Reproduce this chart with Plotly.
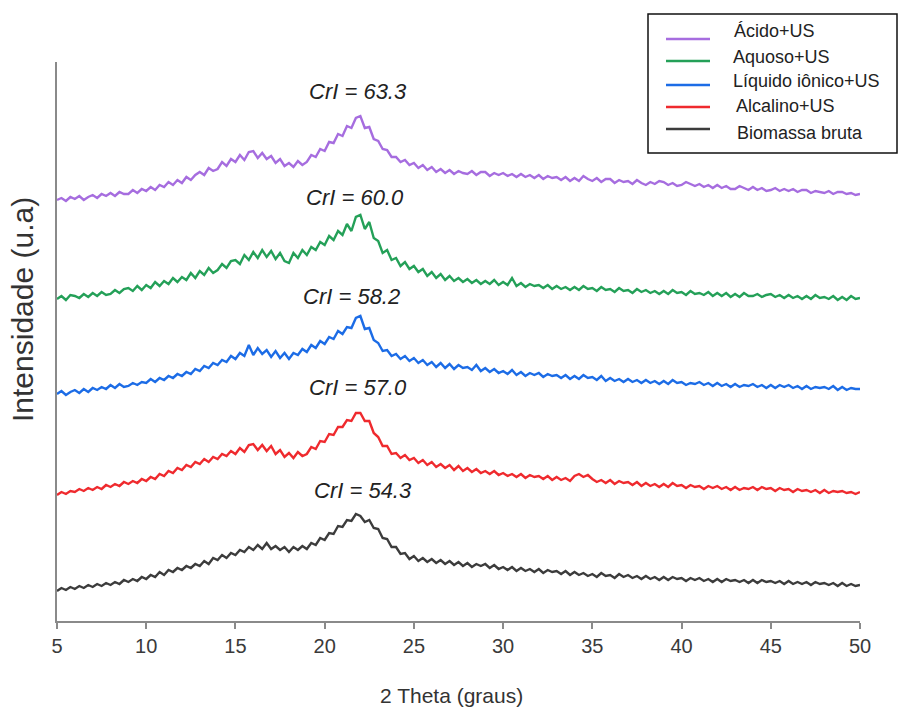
import plotly.graph_objects as go

# 2-theta sampling grid (degrees), 0.25 deg step from 5 to 50
two_theta = [5 + 0.25 * i for i in range(181)]

# Intensities (a.u., stacked/offset as in the figure)
acido_us = [
    421, 423, 420, 424, 422, 425, 421, 424, 426, 423, 427, 425, 428, 425, 429, 427,
    427, 431, 428, 432, 430, 434, 431, 436, 434, 439, 436, 441, 438, 444, 441, 446,
    449, 446, 453, 450, 452, 459, 455, 462, 459, 466, 461, 469, 470, 463, 468, 462,
    465, 458, 462, 455, 458, 454, 460, 456, 459, 466, 464, 472, 470, 479, 478, 487,
    485, 495, 493, 503, 505, 493, 494, 482, 480, 472, 471, 464, 464, 459, 461, 456,
    458, 453, 456, 451, 454, 449, 452, 448, 451, 447, 450, 448, 447, 450, 446, 449,
    449, 445, 448, 446, 448, 445, 447, 444, 447, 444, 446, 443, 446, 442, 445, 443,
    444, 441, 444, 440, 443, 440, 445, 442, 440, 443, 439, 442, 442, 438, 441, 439,
    440, 437, 441, 438, 436, 439, 437, 440, 439, 436, 438, 435, 436, 439, 437, 435,
    437, 434, 436, 433, 436, 433, 435, 432, 432, 435, 433, 431, 434, 431, 433, 430,
    431, 433, 430, 432, 430, 432, 429, 431, 431, 428, 430, 429, 428, 430, 427, 429,
    429, 427, 428, 426, 427,
]

aquoso_us = [
    322, 325, 321, 326, 325, 323, 327, 324, 328, 325, 329, 326, 327, 331, 328, 332,
    333, 330, 335, 331, 336, 333, 339, 335, 340, 337, 343, 339, 344, 341, 348, 343,
    350, 346, 353, 348, 351, 357, 353, 360, 361, 357, 366, 361, 369, 363, 371, 364,
    370, 362, 368, 360, 358, 368, 363, 371, 366, 374, 371, 379, 376, 385, 381, 390,
    386, 397, 390, 404, 406, 392, 399, 383, 380, 368, 371, 361, 363, 355, 359, 352,
    355, 349, 352, 345, 349, 343, 347, 341, 345, 340, 343, 339, 342, 338, 341, 337,
    340, 337, 341, 336, 339, 336, 343, 335, 338, 334, 337, 335, 336, 333, 336, 332,
    335, 332, 334, 331, 334, 331, 335, 332, 333, 330, 334, 331, 332, 329, 333, 330,
    331, 328, 332, 329, 331, 328, 330, 327, 330, 327, 331, 328, 329, 326, 330, 327,
    328, 326, 329, 325, 328, 325, 328, 324, 327, 324, 328, 325, 325, 327, 324, 326,
    327, 324, 326, 323, 326, 323, 325, 322, 325, 322, 326, 323, 324, 322, 325, 321,
    324, 321, 325, 322, 323,
]

liquido_ionico_us = [
    227, 230, 226, 229, 231, 228, 232, 229, 233, 231, 234, 232, 236, 233, 237, 234,
    235, 238, 236, 239, 238, 242, 239, 243, 241, 245, 243, 247, 245, 249, 247, 252,
    250, 255, 253, 258, 256, 261, 259, 265, 262, 268, 265, 276, 266, 273, 267, 271,
    264, 270, 263, 268, 262, 268, 266, 272, 269, 276, 273, 280, 277, 284, 282, 290,
    287, 294, 293, 303, 305, 292, 293, 281, 278, 270, 271, 265, 267, 262, 265, 260,
    263, 258, 261, 256, 259, 254, 258, 253, 257, 252, 256, 253, 254, 251, 256, 250,
    253, 249, 252, 248, 250, 247, 251, 246, 249, 245, 248, 246, 248, 244, 247, 245,
    246, 243, 246, 242, 245, 242, 246, 243, 244, 241, 245, 240, 243, 240, 242, 239,
    242, 239, 241, 238, 241, 238, 240, 237, 240, 237, 241, 238, 239, 236, 238, 237,
    239, 236, 238, 235, 238, 235, 237, 234, 237, 234, 236, 235, 237, 234, 236, 233,
    236, 233, 236, 234, 236, 233, 235, 232, 235, 232, 234, 233, 234, 232, 235, 231,
    234, 231, 233, 232, 232,
]

alcalino_us = [
    126, 129, 127, 130, 129, 132, 130, 133, 131, 134, 132, 136, 134, 137, 135, 139,
    137, 140, 138, 142, 140, 144, 142, 147, 145, 150, 148, 153, 151, 156, 154, 159,
    157, 162, 159, 164, 162, 167, 165, 170, 167, 173, 169, 176, 177, 171, 176, 170,
    175, 167, 171, 164, 168, 163, 169, 165, 167, 174, 172, 180, 179, 187, 186, 194,
    194, 201, 200, 208, 208, 200, 200, 188, 184, 175, 175, 167, 168, 163, 166, 161,
    163, 158, 161, 156, 159, 154, 157, 153, 156, 151, 155, 150, 153, 149, 152, 148,
    150, 147, 150, 146, 148, 145, 147, 144, 147, 143, 146, 144, 145, 142, 145, 141,
    144, 141, 143, 140, 145, 147, 144, 146, 142, 139, 141, 138, 141, 137, 140, 138,
    139, 136, 139, 135, 138, 135, 137, 134, 137, 134, 138, 135, 136, 133, 136, 134,
    135, 132, 135, 133, 135, 132, 134, 131, 134, 131, 133, 132, 134, 131, 134, 132,
    133, 130, 133, 131, 132, 129, 132, 130, 131, 129, 131, 128, 131, 128, 130, 129,
    130, 128, 129, 127, 129,
]

biomassa_bruta = [
    30, 33, 31, 34, 32, 35, 33, 36, 34, 37, 35, 38, 36, 39, 37, 41,
    39, 42, 40, 44, 42, 46, 44, 49, 46, 51, 49, 53, 51, 55, 53, 57,
    55, 60, 57, 63, 61, 66, 63, 68, 66, 71, 69, 74, 71, 76, 72, 78,
    72, 75, 71, 74, 69, 74, 71, 75, 72, 78, 76, 83, 81, 88, 87, 95,
    94, 101, 100, 107, 105, 99, 101, 93, 92, 83, 82, 74, 74, 67, 68, 62,
    65, 60, 63, 59, 62, 58, 61, 57, 60, 56, 59, 55, 58, 54, 57, 55,
    57, 53, 56, 52, 54, 51, 54, 50, 53, 50, 52, 49, 52, 48, 51, 49,
    50, 47, 50, 46, 49, 46, 48, 45, 47, 44, 48, 45, 46, 43, 47, 44,
    46, 43, 45, 42, 45, 42, 44, 41, 44, 41, 44, 42, 43, 40, 43, 41,
    43, 40, 42, 39, 42, 39, 42, 40, 41, 39, 41, 38, 41, 38, 41, 39,
    40, 38, 40, 37, 40, 37, 39, 37, 39, 36, 39, 37, 38, 36, 38, 35,
    38, 35, 37, 35, 36,
]

series_names = ["Ácido+US", "Aquoso+US", "Líquido iônico+US", "Alcalino+US", "Biomassa bruta"]
series_values = [acido_us, aquoso_us, liquido_ionico_us, alcalino_us, biomassa_bruta]
crl_values = [63.3, 60.0, 58.2, 57.0, 54.3]
x_ticks = [5, 10, 15, 20, 25, 30, 35, 40, 45, 50]

# styles / layout constants
colors = ["#a66ddf", "#24a058", "#1c6ce6", "#ef2a2e", "#3c3c3c"]
crl_label_pos = [(21.87, 530), (21.7, 424), (21.53, 325), (21.87, 234), (22.15, 131)]

W, H = 899, 713
L, R, T, B = 57, 39, 62, 92
PW, PH = W - L - R, H - T - B


def pxx(px):
    return (px - L) / PW


def pxy(py):
    return (H - B - py) / PH


fig = go.Figure()
for name, vals, col in zip(series_names, series_values, colors):
    assert len(vals) == len(two_theta), name
    fig.add_trace(go.Scatter(
        x=two_theta, y=vals, mode="lines", name=name,
        line=dict(color=col, width=2.4), showlegend=False,
    ))

FONT = "Arial, Liberation Sans, sans-serif"
ann = []
for v, (lx, ly) in zip(crl_values, crl_label_pos):
    ann.append(dict(x=lx, y=ly, xref="x", yref="y", text=f"<i>CrI = {v:.1f}</i>",
                    showarrow=False, font=dict(family=FONT, size=22, color="#222222"),
                    xanchor="center", yanchor="middle"))

# axis titles
ann.append(dict(x=pxx(451), y=pxy(695), xref="paper", yref="paper", text="2 Theta (graus)",
                showarrow=False, font=dict(family=FONT, size=21, color="#333333"),
                xanchor="center", yanchor="middle"))
ann.append(dict(x=pxx(22), y=pxy(310), xref="paper", yref="paper", text="Intensidade (u.a)",
                showarrow=False, textangle=-90, font=dict(family=FONT, size=30, color="#333333"),
                xanchor="center", yanchor="middle"))

# manual legend
shapes = [dict(type="rect", xref="paper", yref="paper", x0=pxx(648), x1=pxx(897),
               y0=pxy(153), y1=pxy(14), line=dict(color="#111111", width=1.5),
               fillcolor="white", layer="above")]
sw_y = [39, 61, 85, 107, 129]
tx_y = [31, 57, 81, 106, 133]
tx_x = [732, 731, 731, 734, 735]
for name, col, sy, ty, tx in zip(series_names, colors, sw_y, tx_y, tx_x):
    shapes.append(dict(type="line", xref="paper", yref="paper", x0=pxx(666), x1=pxx(710),
                       y0=pxy(sy), y1=pxy(sy), line=dict(color=col, width=2.5), layer="above"))
    ann.append(dict(x=pxx(tx), y=pxy(ty), xref="paper", yref="paper", text=name,
                    showarrow=False, font=dict(family=FONT, size=18, color="#222222"),
                    xanchor="left", yanchor="middle"))

fig.update_layout(
    width=W, height=H,
    margin=dict(l=L, r=R, t=T, b=B),
    paper_bgcolor="white", plot_bgcolor="white",
    annotations=ann, shapes=shapes,
    xaxis=dict(range=[5, 50], tickvals=x_ticks, ticktext=[str(t) for t in x_ticks],
               showline=True, linecolor="#8a8a8a", linewidth=2,
               ticks="outside", ticklen=6, tickwidth=1.5, tickcolor="#8a8a8a",
               ticklabelstandoff=0,
               tickfont=dict(family=FONT, size=20, color="#3a3a3a"),
               showgrid=False, zeroline=False),
    yaxis=dict(range=[0, PH], showline=True, linecolor="#8a8a8a", linewidth=2,
               showticklabels=False, ticks="", showgrid=False, zeroline=False),
)

fig.write_html("out.html")
